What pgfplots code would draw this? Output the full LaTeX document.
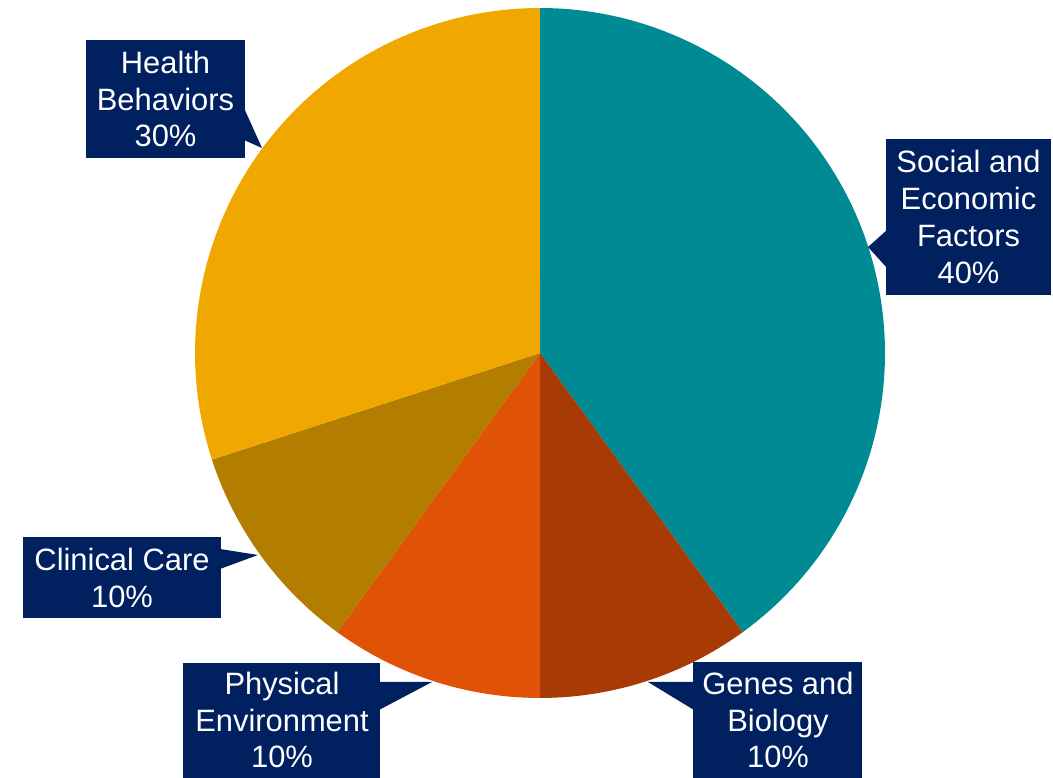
\documentclass[border=0pt]{standalone}
\usepackage{pgfplots}
\pgfplotsset{compat=1.18}
\usepackage{fontspec}
\setmainfont{Liberation Sans}
\definecolor{cSoc}{RGB}{0,139,148}
\definecolor{cGen}{RGB}{168,58,5}
\definecolor{cPhy}{RGB}{224,82,6}
\definecolor{cCli}{RGB}{179,126,0}
\definecolor{cHea}{RGB}{240,168,0}
\definecolor{navy}{RGB}{0,32,96}
\tikzset{lbl/.style={text=white, align=center, inner sep=0pt, font=\fontsize{31}{37}\selectfont}}
% shares (percent), clockwise from top
\def\pSoc{40}\def\pGen{10}\def\pPhy{10}\def\pCli{10}\def\pHea{30}
\pgfmathsetmacro\aA{90}
\pgfmathsetmacro\aB{\aA-3.6*\pSoc}
\pgfmathsetmacro\aC{\aB-3.6*\pGen}
\pgfmathsetmacro\aD{\aC-3.6*\pPhy}
\pgfmathsetmacro\aE{\aD-3.6*\pCli}
\pgfmathsetmacro\aF{\aE-3.6*\pHea}
\begin{document}
\begin{tikzpicture}
\useasboundingbox (0,0) rectangle (1053bp,778bp);
\begin{axis}[
  at={(0,0)}, anchor=south west,
  width=1053bp, height=778bp, scale only axis,
  xmin=0, xmax=1053, ymin=0, ymax=778,
  hide axis, clip=false,
]
\addplot[fill=cSoc, draw=none, domain=\aA:\aB, samples=90] ({540+345*cos(x)},{425+345*sin(x)}) -- (axis cs:540,425) -- cycle;
\addplot[fill=cGen, draw=none, domain=\aB:\aC, samples=30] ({540+345*cos(x)},{425+345*sin(x)}) -- (axis cs:540,425) -- cycle;
\addplot[fill=cPhy, draw=none, domain=\aC:\aD, samples=30] ({540+345*cos(x)},{425+345*sin(x)}) -- (axis cs:540,425) -- cycle;
\addplot[fill=cCli, draw=none, domain=\aD:\aE, samples=30] ({540+345*cos(x)},{425+345*sin(x)}) -- (axis cs:540,425) -- cycle;
\addplot[fill=cHea, draw=none, domain=\aE:\aF, samples=70] ({540+345*cos(x)},{425+345*sin(x)}) -- (axis cs:540,425) -- cycle;
% callouts
\fill[navy] (axis cs:86,620) rectangle (axis cs:245,738);
\fill[navy] (axis cs:244,670) -- (axis cs:262,630) -- (axis cs:244,638) -- cycle;
\node[lbl] at (axis cs:165.5,679) {Health\\Behaviors\\30\%};
\fill[navy] (axis cs:886,483) rectangle (axis cs:1051,639);
\fill[navy] (axis cs:887,548) -- (axis cs:868,531) -- (axis cs:887,510) -- cycle;
\node[lbl] at (axis cs:968.5,561) {Social and\\Economic\\Factors\\40\%};
\fill[navy] (axis cs:23,160) rectangle (axis cs:221,241);
\fill[navy] (axis cs:220,229) -- (axis cs:258,223) -- (axis cs:220,209) -- cycle;
\node[lbl] at (axis cs:122,200) {Clinical Care\\10\%};
\fill[navy] (axis cs:183,0) rectangle (axis cs:380,115);
\fill[navy] (axis cs:379,96) -- (axis cs:432,96) -- (axis cs:379,68) -- cycle;
\node[lbl] at (axis cs:282,58) {Physical\\Environment\\10\%};
\fill[navy] (axis cs:693,0) rectangle (axis cs:862,116);
\fill[navy] (axis cs:694,96) -- (axis cs:648,96) -- (axis cs:694,68) -- cycle;
\node[lbl] at (axis cs:778,58) {Genes and\\Biology\\10\%};
\end{axis}
\end{tikzpicture}
\end{document}
